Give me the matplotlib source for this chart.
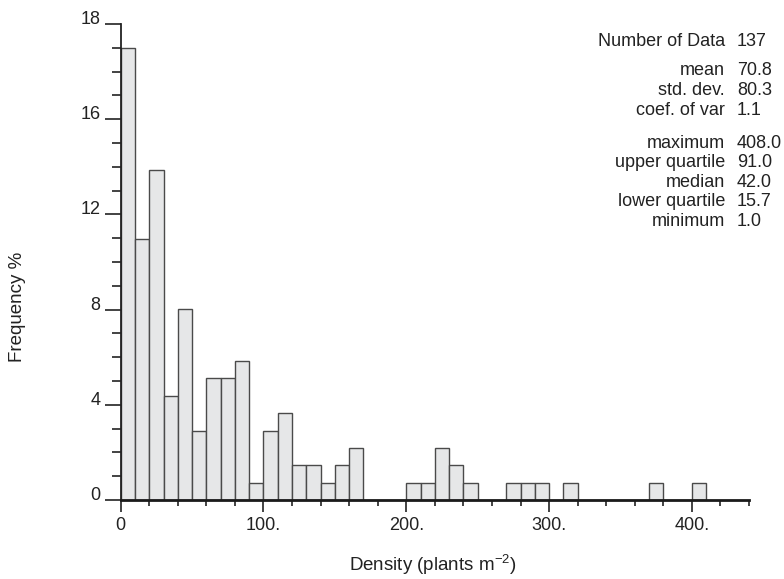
import matplotlib
matplotlib.use("Agg")
import matplotlib.pyplot as plt
import numpy as np

plt.rcParams['font.family'] = ['Liberation Sans', 'DejaVu Sans']
plt.rcParams['mathtext.fontset'] = 'custom'
plt.rcParams['mathtext.rm'] = 'Liberation Sans'
plt.rcParams['mathtext.it'] = 'Liberation Sans:italic'

# Histogram data: bin left edges (width 10) and counts (n = 137)
bin_edges = list(range(0, 410, 10))
counts = [26, 15, 19, 6, 11, 4, 7, 7, 8, 1,
          4, 5, 2, 2, 1, 2, 3, 0, 0, 0,
          1, 1, 3, 2, 1, 0, 0, 1, 1, 1,
          0, 1, 0, 0, 0, 0, 0, 1, 0, 0,
          1]
bin_width = 10
total = 137

y_tick_pos = [0, 4, 8, 12, 16, 20]
y_tick_labels = ['0', '4', '8', '12', '16', '18']
x_tick_pos = [0, 100, 200, 300, 400]
x_tick_labels = ['0', '100.', '200.', '300.', '400.']

stat_names = ['Number of Data', 'mean', 'std. dev.', 'coef. of var',
              'maximum', 'upper quartile', 'median', 'lower quartile', 'minimum']
stat_values = ['137', '70.8', '80.3', '1.1',
               '408.0', '91.0', '42.0', '15.7', '1.0']
stat_y_px = [42, 70.7, 90.7, 110.7, 143.3, 162.7, 182.3, 201.7, 221.7]

W, H = 784, 579
fig = plt.figure(figsize=(W / 100, H / 100), dpi=100)
ax = fig.add_axes([120.7 / W, 1 - 500 / H, (749 - 120.7) / W, (500 - 24) / H])

pct = np.array(counts) / total * 100
ax.bar(bin_edges, pct, width=bin_width, align='edge',
       color='#e6e7e8', edgecolor='#4a4a4a', linewidth=1.0, zorder=2)

ax.set_xlim(0, 440)
ax.set_ylim(0, 20)

for s in ['top', 'right']:
    ax.spines[s].set_visible(False)
ax.spines['left'].set_color('#222222')
ax.spines['left'].set_linewidth(1.3)
ax.spines['bottom'].set_color('#1a1a1a')
ax.spines['bottom'].set_linewidth(2.0)
ax.spines['bottom'].set_zorder(3)

ax.set_yticks(y_tick_pos)
ax.set_yticklabels(y_tick_labels)
ax.set_yticks(np.arange(0, 21, 1), minor=True)
ax.set_xticks(x_tick_pos)
ax.set_xticklabels(x_tick_labels)
ax.set_xticks(np.arange(0, 441, 20), minor=True)

ax.tick_params(axis='y', which='major', length=11.5, width=1.2, color='#222222',
               labelsize=13, labelcolor='#222222', pad=3)
ax.tick_params(axis='y', which='minor', length=6.5, width=1.2, color='#222222')
ax.tick_params(axis='x', which='major', length=8.6, width=1.2, color='#222222',
               labelsize=13, labelcolor='#222222', pad=4)
ax.tick_params(axis='x', which='minor', length=4.3, width=1.2, color='#222222')
plt.setp(ax.get_yticklabels(), va='baseline')

fig.text(18 / W, 1 - 307 / H, 'Frequency %', rotation=90, ha='center', va='center',
         fontsize=13.5, color='#222222')
fig.text(433 / W, 1 - 565 / H, 'Density (plants m$^{-2}$)', ha='center', va='center',
         fontsize=13.5, color='#222222')

for name, val, ypx in zip(stat_names, stat_values, stat_y_px):
    fig.text(725 / W, 1 - ypx / H, name, ha='right', va='center', fontsize=13, color='#222222')
    fig.text(737 / W, 1 - ypx / H, val, ha='left', va='center', fontsize=13, color='#222222')

fig.savefig('out.png', dpi=100)
